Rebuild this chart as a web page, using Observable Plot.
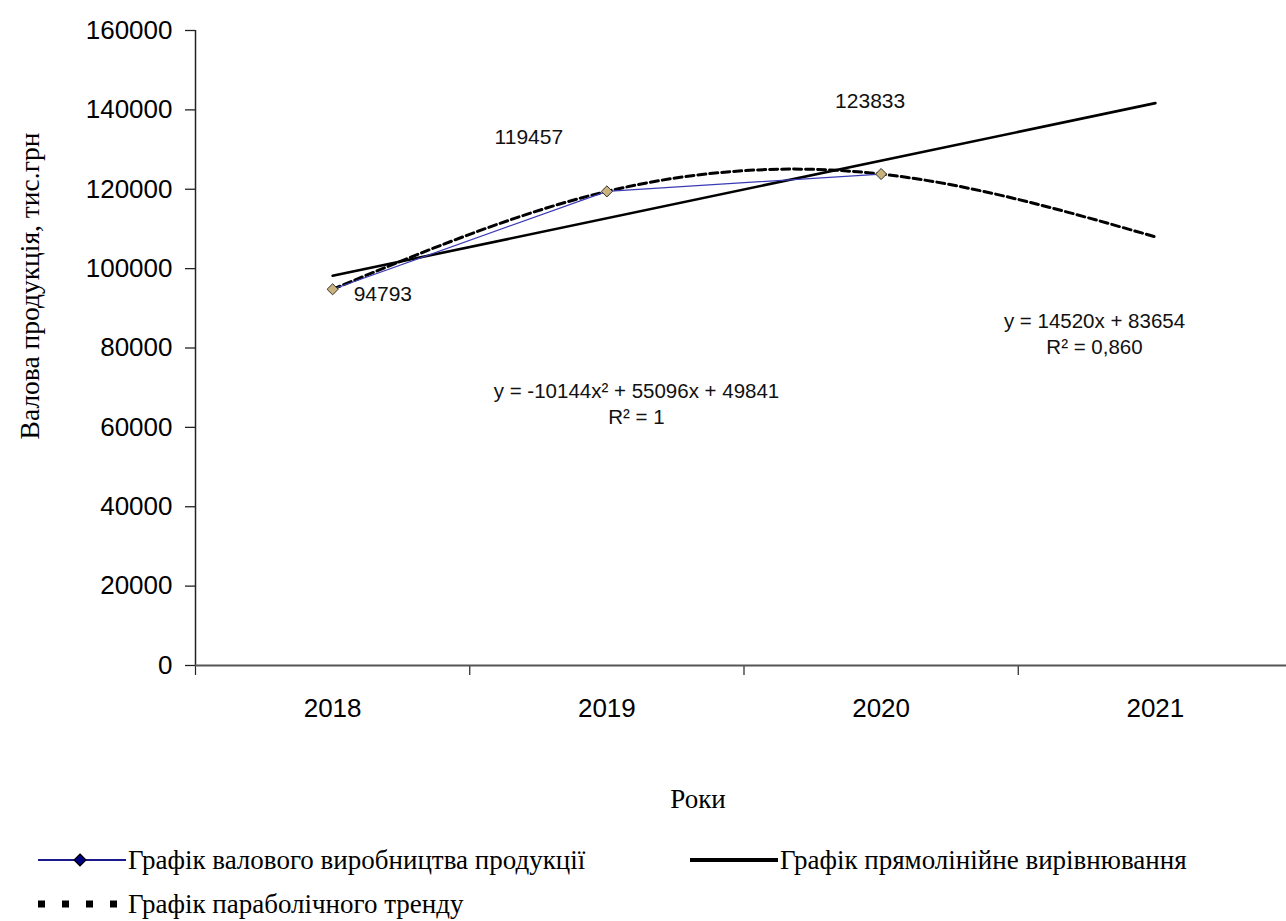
<!DOCTYPE html>
<html>
<head>
<meta charset="utf-8">
<script src="https://cdn.jsdelivr.net/npm/d3@7"></script>
<script src="https://cdn.jsdelivr.net/npm/@observablehq/plot@0.6"></script>
<style>
  body { margin: 0; background: #fff; }
  #wrap { position: relative; width: 1286px; height: 921px; overflow: hidden; }
  .leg { position: absolute; height: 30px; color: #000; white-space: nowrap; }
  .leg svg { position: absolute; left: 0; top: 0; }
</style>
</head>
<body>
<div id="wrap"></div>
<script>
// ---- data ----
const years = [2018, 2019, 2020, 2021];
const periods = [1, 2, 3, 4];
const actualValues = [94793, 119457, 123833];          // 2018–2020
const linearPeriods = [1, 4];
const linearValues = [98200, 141700];                  // straight-line trend ends
const parabolaValues = [94793, 119457, 123833, 108000]; // parabolic trend 2018–2021
const yTicks = [0, 20000, 40000, 60000, 80000, 100000, 120000, 140000, 160000];
const bandEdges = [0.5, 1.5, 2.5, 3.5, 4.5];
const eqParabola = "y = -10144x² + 55096x + 49841\nR² = 1";
const eqLinear = "y = 14520x + 83654\nR² = 0,860";
const yLabel = "Валова продукція, тис.грн";
const xLabel = "Роки";
const legendLabels = ["Графік валового виробництва продукції", "Графік прямолінійне вирівнювання", "Графік параболічного тренду"];

const actual = actualValues.map((v, i) => ({t: periods[i], v}));
const linear = linearValues.map((v, i) => ({t: linearPeriods[i], v}));
const parabola = parabolaValues.map((v, i) => ({t: periods[i], v}));

const sans = "'Liberation Sans', Arial, sans-serif";
const serif = "'Liberation Serif', 'Times New Roman', serif";

const chart = Plot.plot({
  width: 1286,
  height: 830,
  marginTop: 30,
  marginBottom: 165,
  marginLeft: 195,
  marginRight: 0,
  x: {type: "linear", domain: [bandEdges[0], bandEdges[bandEdges.length - 1]], range: [195, 1292]},
  y: {domain: [yTicks[0], yTicks[yTicks.length - 1]], range: [665, 30]},
  style: {fontFamily: sans, fontSize: "26px", color: "#000", background: "#fff", overflow: "visible"},
  marks: [
    Plot.axisY({ticks: yTicks, tickSize: 10, tickPadding: 13, tickFormat: d => String(d), fontSize: 26, label: null, stroke: "#222", strokeWidth: 1.3}),
    Plot.ruleX([bandEdges[0]], {y1: yTicks[0], y2: yTicks[yTicks.length - 1], stroke: "#222", strokeWidth: 1.5}),
    Plot.axisX({ticks: bandEdges, tickSize: 10, tickFormat: () => "", label: null, stroke: "#222", strokeWidth: 1.2}),
    Plot.axisX({ticks: periods, tickSize: 0, tickPadding: 33, tickFormat: t => String(years[t - 1]), fontSize: 26, label: null}),
    Plot.ruleY([0], {stroke: "#555", strokeWidth: 2.2}),
    Plot.line(linear, {x: "t", y: "v", stroke: "#000", strokeWidth: 2.6}),
    Plot.line(parabola, {x: "t", y: "v", curve: "natural", stroke: "#000", strokeWidth: 3, strokeDasharray: "8,4"}),
    Plot.line(actual, {x: "t", y: "v", stroke: "#3a3ab4", strokeWidth: 1.2}),
    Plot.dot(actual, {x: "t", y: "v", symbol: "diamond2", r: 5, fill: "#c9b27c", stroke: "#333", strokeWidth: 1}),
    Plot.text(actual, {filter: (d, i) => i === 0, x: "t", y: "v", text: d => String(d.v), textAnchor: "start", dx: 21, dy: 5, fontSize: 21, fill: "#111"}),
    Plot.text(actual, {filter: (d, i) => i === 1, x: "t", y: "v", text: d => String(d.v), dx: -78, dy: -54, fontSize: 21, fill: "#111"}),
    Plot.text(actual, {filter: (d, i) => i === 2, x: "t", y: "v", text: d => String(d.v), dx: -11, dy: -73, fontSize: 21, fill: "#111"}),
    Plot.text([eqParabola], {frameAnchor: "top-left", dx: 441, dy: 372, lineAnchor: "middle", textAnchor: "middle", lineHeight: 1.3, fontSize: 20.5, fill: "#111"}),
    Plot.text([eqLinear], {frameAnchor: "top-left", dx: 899, dy: 302, lineAnchor: "middle", textAnchor: "middle", lineHeight: 1.25, fontSize: 20.5, fill: "#111"}),
    Plot.text([yLabel], {frameAnchor: "left", textAnchor: "middle", rotate: -90, dx: -165, dy: -62, fontFamily: serif, fontSize: 27.5, fill: "#000"}),
    Plot.text([xLabel], {frameAnchor: "bottom", textAnchor: "middle", dx: -43, dy: 142, fontFamily: serif, fontSize: 27, fill: "#000"})
  ]
});

const wrap = document.getElementById("wrap");
wrap.appendChild(chart);

// legend drawn as small SVGs so the serif face is the same one the chart uses
function legendItem(left, top, svgInner, label) {
  const d = document.createElement("div");
  d.className = "leg";
  d.style.left = left + "px";
  d.style.top = top + "px";
  d.innerHTML = `<svg width="620" height="30" viewBox="0 0 620 30">${svgInner}
    <text x="92" y="15" dy="0.35em" font-family="${serif}" font-size="27" fill="#000">${label}</text></svg>`;
  wrap.appendChild(d);
}
legendItem(36, 845,
  `<line x1="2" y1="15" x2="90" y2="15" stroke="#1a1a8c" stroke-width="2.2"/>
   <path d="M44 9 L50 15 L44 21 L38 15 Z" fill="#000080" stroke="#000" stroke-width="1.2"/>`,
  legendLabels[0]);
legendItem(688, 845,
  `<line x1="2" y1="15" x2="90" y2="15" stroke="#000" stroke-width="4"/>`,
  legendLabels[1]);
legendItem(36, 889,
  `<line x1="2" y1="15" x2="90" y2="15" stroke="#000" stroke-width="7" stroke-dasharray="7,17"/>`,
  legendLabels[2]);
</script>
</body>
</html>
